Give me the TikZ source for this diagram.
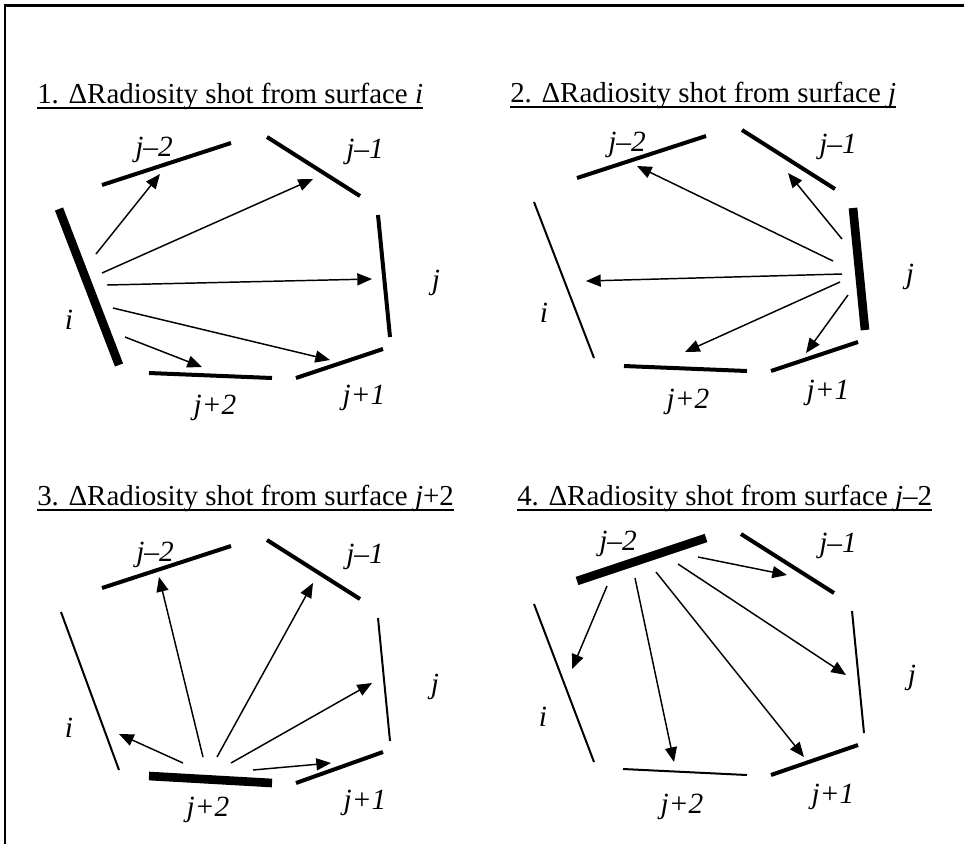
\documentclass[tikz,border=0pt]{standalone}
\usepackage{fontspec}
\setmainfont{Liberation Serif}
\usetikzlibrary{arrows.meta}

\begin{document}
\begin{tikzpicture}[x=0.75pt,y=-0.75pt]

  \tikzset{shotsurf/.style = {line width=6.5pt}}
  \tikzset{litsurf/.style = {line width=3pt}}
  \tikzset{darksurf/.style = {line width=1.5pt}}
  \tikzset{ray/.style = {-{Triangle[length=11pt,width=9pt]},line width=1.1pt}}
  \tikzset{surflabel/.style = {inner sep=0pt,font=\fontsize{22}{26}\selectfont\itshape}}
  \tikzset{heading/.style = {anchor=base west,inner sep=0pt,font=\fontsize{21.7}{26}\selectfont}}
  \useasboundingbox (0,0) rectangle (964,844);
  % frame
  \draw[line width=2pt] (5,844) -- (5,5.5) -- (964,5.5);
  % headings
  \node[heading] (t1) at (37,103)  {1. ΔRadiosity shot from surface \textit{i}};
  \node[heading] (t2) at (510,102) {2. ΔRadiosity shot from surface \textit{j}};
  \node[heading] (t3) at (37,505)  {3. ΔRadiosity shot from surface \textit{j}+2};
  \node[heading] (t4) at (517,505) {4. ΔRadiosity shot from surface \textit{j}–2};
  \draw[line width=1pt] ([yshift=-3.75pt]t1.base west) -- ([yshift=-3.75pt]t1.base east);
  \draw[line width=1pt] ([yshift=-3.75pt]t2.base west) -- ([yshift=-3.75pt]t2.base east);
  \draw[line width=1pt] ([yshift=-3.75pt]t3.base west) -- ([yshift=-3.75pt]t3.base east);
  \draw[line width=1pt] ([yshift=-3.75pt]t4.base west) -- ([yshift=-3.75pt]t4.base east);

  % panel 1: shot from i
  \begin{scope}
    % surfaces
    \draw[shotsurf] (59,209) -- (119,365);
    \draw[litsurf] (102,185) -- (231,143);
    \draw[litsurf] (267,137) -- (360,196);
    \draw[litsurf] (378,215) -- (390,337);
    \draw[litsurf] (296,378) -- (383,349);
    \draw[litsurf] (149,373) -- (272,378);
    % labels
    \node[surflabel] (i1)   at (69,320)  {i};
    \node[surflabel] (jm21) at (154,150) {j–2};
    \node[surflabel] (jm11) at (365,152) {j–1};
    \node[surflabel] (j1)   at (436,283) {j};
    \node[surflabel] (jp11) at (364,398) {j+1};
    \node[surflabel] (jp21) at (215,408) {j+2};
    % rays
    \coordinate (a1) at (96,254);  \coordinate (b1) at (160,174);
    \coordinate (a2) at (102,273); \coordinate (b2) at (313,179);
    \coordinate (a3) at (107,285); \coordinate (b3) at (372,279);
    \coordinate (a4) at (113,308); \coordinate (b4) at (330,360);
    \coordinate (a5) at (125,337); \coordinate (b5) at (202,367);
    \draw[ray] (a1) -- (b1);
    \draw[ray] (a2) -- (b2);
    \draw[ray] (a3) -- (b3);
    \draw[ray] (a4) -- (b4);
    \draw[ray] (a5) -- (b5);
  \end{scope}

  % panel 2: shot from j
  \begin{scope}[shift={(475,-7)}]
    % surfaces
    \draw[darksurf] (59,209) -- (119,365);
    \draw[litsurf] (102,185) -- (231,143);
    \draw[litsurf] (267,137) -- (360,196);
    \draw[shotsurf] (378,215) -- (390,337);
    \draw[litsurf] (296,378) -- (383,349);
    \draw[litsurf] (149,373) -- (272,378);
    % labels
    \node[surflabel] (i2)   at (69,320)  {i};
    \node[surflabel] (jm22) at (152,152) {j–2};
    \node[surflabel] (jm12) at (363,154) {j–1};
    \node[surflabel] (j2)   at (435,284) {j};
    \node[surflabel] (jp12) at (353,400) {j+1};
    \node[surflabel] (jp22) at (213,409) {j+2};
    % rays
    \coordinate (a1) at (358,268); \coordinate (b1) at (162,173);
    \coordinate (a2) at (367,246); \coordinate (b2) at (313,180);
    \coordinate (a3) at (367,281); \coordinate (b3) at (111,288);
    \coordinate (a4) at (365,289); \coordinate (b4) at (210,359);
    \coordinate (a5) at (373,302); \coordinate (b5) at (331,360);
    \draw[ray] (a1) -- (b1);
    \draw[ray] (a2) -- (b2);
    \draw[ray] (a3) -- (b3);
    \draw[ray] (a4) -- (b4);
    \draw[ray] (a5) -- (b5);
  \end{scope}

  % panel 3: shot from j+2
  \begin{scope}[shift={(0,403)}]
    % surfaces
    \draw[darksurf] (61,209) -- (119,367);
    \draw[litsurf] (102,185) -- (231,143);
    \draw[litsurf] (267,137) -- (360,196);
    \draw[darksurf] (378,215) -- (390,338);
    \draw[litsurf] (296,380) -- (383,349);
    \draw[shotsurf] (149,373) -- (272,380);
    % labels
    \node[surflabel] (i3)   at (69,325)  {i};
    \node[surflabel] (jm23) at (155,152) {j–2};
    \node[surflabel] (jm13) at (365,154) {j–1};
    \node[surflabel] (j3)   at (435,284) {j};
    \node[surflabel] (jp13) at (365,400) {j+1};
    \node[surflabel] (jp23) at (208,407) {j+2};
    % rays
    \coordinate (a1) at (183,360); \coordinate (b1) at (119,331);
    \coordinate (a2) at (203,354); \coordinate (b2) at (159,174);
    \coordinate (a3) at (217,354); \coordinate (b3) at (313,180);
    \coordinate (a4) at (231,360); \coordinate (b4) at (372,280);
    \coordinate (a5) at (253,367); \coordinate (b5) at (331,360);
    \draw[ray] (a1) -- (b1);
    \draw[ray] (a2) -- (b2);
    \draw[ray] (a3) -- (b3);
    \draw[ray] (a4) -- (b4);
    \draw[ray] (a5) -- (b5);
  \end{scope}

  % panel 4: shot from j-2
  \begin{scope}[shift={(475,396)}]
    % surfaces
    \draw[darksurf] (59,208) -- (119,366);
    \draw[shotsurf] (102,185) -- (231,142);
    \draw[litsurf] (266,138) -- (359,197);
    \draw[darksurf] (377,215) -- (389,337);
    \draw[litsurf] (296,379) -- (383,349);
    \draw[darksurf] (148,373) -- (272,379);
    % labels
    \node[surflabel] (i4)   at (68,321)  {i};
    \node[surflabel] (jm24) at (143,148) {j–2};
    \node[surflabel] (jm14) at (363,150) {j–1};
    \node[surflabel] (j4)   at (437,282) {j};
    \node[surflabel] (jp14) at (358,401) {j+1};
    \node[surflabel] (jp24) at (207,411) {j+2};
    % rays
    \coordinate (a1) at (132,190); \coordinate (b1) at (97,273);
    \coordinate (a2) at (160,182); \coordinate (b2) at (199,366);
    \coordinate (a3) at (181,176); \coordinate (b3) at (329,361);
    \coordinate (a4) at (203,168); \coordinate (b4) at (371,279);
    \coordinate (a5) at (223,161); \coordinate (b5) at (312,179);
    \draw[ray] (a1) -- (b1);
    \draw[ray] (a2) -- (b2);
    \draw[ray] (a3) -- (b3);
    \draw[ray] (a4) -- (b4);
    \draw[ray] (a5) -- (b5);
  \end{scope}
\end{tikzpicture}
\end{document}
